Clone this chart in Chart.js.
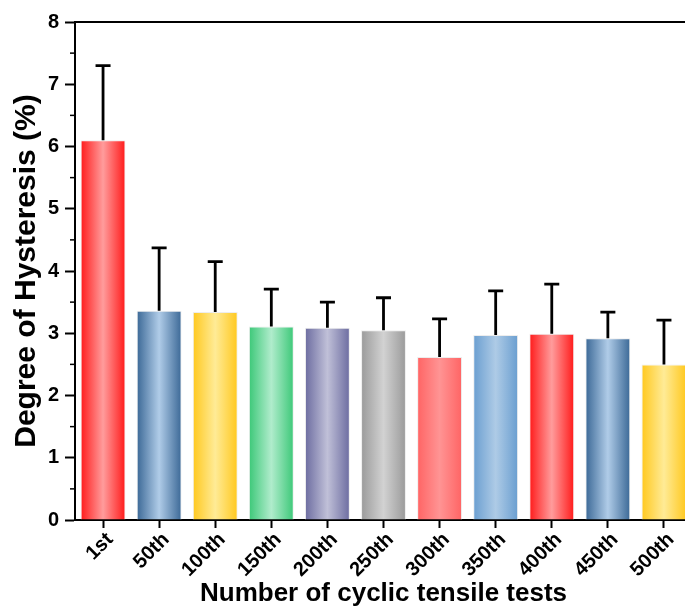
<!DOCTYPE html>
<html>
<head>
<meta charset="utf-8">
<script src="https://cdn.jsdelivr.net/npm/chart.js@4"></script>
<style>
  html, body { margin: 0; padding: 0; background: #fff; overflow: hidden; }
  canvas { display: block; }
</style>
</head>
<body>
<canvas id="chart" width="692" height="610"></canvas>
<script>
// data
let labels = ["1st", "50th", "100th", "150th", "200th", "250th", "300th", "350th", "400th", "450th", "500th"];
let values = [6.10, 3.36, 3.34, 3.11, 3.09, 3.05, 2.62, 2.97, 2.99, 2.92, 2.50];
let errTop = [7.30, 4.37, 4.15, 3.71, 3.50, 3.57, 3.23, 3.68, 3.79, 3.34, 3.21];

// [edge, middle] colour of each bar
let edgeColors = ["#ff1a1a", "#3b6896", "#ffc81e", "#3cc878", "#6c6ca0", "#9a9a9a", "#ff6464", "#6a9ed0", "#ff1a1a", "#3b6896", "#ffc81e"];
let midColors = ["#ff9c9c", "#b0cce8", "#ffeb96", "#b0eccc", "#c0c0d8", "#d2d2d2", "#ff9494", "#aecbe6", "#ff9c9c", "#b0cce8", "#ffeb96"];

let font = "'Liberation Sans', Arial, sans-serif";

function barFill(context) {
    let chart = context.chart;
    if (!chart.chartArea || !chart.scales.x) return edgeColors[context.dataIndex];
    let i = context.dataIndex;
    let xs = chart.scales.x;
    let cx = xs.getPixelForValue(i);
    let half = (xs.width / labels.length) * 0.8 / 2;
    let g = chart.ctx.createLinearGradient(cx - half, 0, cx + half, 0);
    g.addColorStop(0, edgeColors[i]);
    g.addColorStop(0.5, midColors[i]);
    g.addColorStop(1, edgeColors[i]);
    return g;
}

// upper error bars, minor y ticks and the top frame line
let extras = {
    id: "extras",
    afterDatasetsDraw(chart) {
        let ctx = chart.ctx;
        let xs = chart.scales.x;
        let ys = chart.scales.y;
        ctx.save();
        ctx.strokeStyle = "#000";
        ctx.lineWidth = 2.8;
        errTop.forEach((e, i) => {
            let x = xs.getPixelForValue(i);
            let y0 = ys.getPixelForValue(values[i]);
            let y1 = ys.getPixelForValue(e);
            ctx.beginPath();
            ctx.moveTo(x, y0);
            ctx.lineTo(x, y1);
            ctx.moveTo(x - 7.5, y1);
            ctx.lineTo(x + 7.5, y1);
            ctx.stroke();
        });
        ctx.restore();
    },
    afterDraw(chart) {
        let ctx = chart.ctx;
        let a = chart.chartArea;
        let ys = chart.scales.y;
        ctx.save();
        ctx.strokeStyle = "#000";
        ctx.lineWidth = 2;
        ctx.beginPath();
        ctx.moveTo(a.left - 1, a.top);
        ctx.lineTo(a.right, a.top);
        ctx.stroke();
        ctx.lineWidth = 1.5;
        for (let v = 0.5; v < 8; v += 1) {
            let y = ys.getPixelForValue(v);
            ctx.beginPath();
            ctx.moveTo(a.left - 5, y);
            ctx.lineTo(a.left, y);
            ctx.stroke();
        }
        ctx.restore();
    }
};

let chart = new Chart(document.getElementById("chart").getContext("2d"), {
    type: "bar",
    data: {
        labels: labels,
        datasets: [{
            data: values,
            backgroundColor: barFill,
            borderColor: "rgba(235,235,235,0.9)",
            borderWidth: 1,
            borderSkipped: "bottom",
            barPercentage: 0.8,
            categoryPercentage: 1
        }]
    },
    options: {
        responsive: false,
        animation: false,
        layout: { padding: { top: 22, right: 0, left: 0, bottom: 0 } },
        plugins: { legend: { display: false }, tooltip: { enabled: false } },
        scales: {
            x: {
                offset: true,
                grid: { offset: false, drawOnChartArea: false, tickLength: 8, tickWidth: 2, tickColor: "#000" },
                border: { color: "#000", width: 2 },
                ticks: {
                    color: "#000",
                    font: { family: font, size: 20, weight: "bold" },
                    minRotation: 45,
                    maxRotation: 45,
                    padding: 0,
                    labelOffset: 7
                },
                title: {
                    display: true,
                    text: "Number of cyclic tensile tests",
                    color: "#000",
                    font: { family: font, size: 26, weight: "bold" },
                    padding: { top: 0, bottom: 1 }
                },
                afterFit(scale) { scale.height = 90; }
            },
            y: {
                min: 0,
                max: 8,
                grid: { drawOnChartArea: false, tickLength: 10, tickWidth: 2, tickColor: "#000" },
                border: { color: "#000", width: 2 },
                ticks: {
                    stepSize: 1,
                    color: "#000",
                    font: { family: font, size: 20, weight: "bold" },
                    padding: 6
                },
                title: {
                    display: true,
                    text: "Degree of Hysteresis (%)",
                    color: "#000",
                    font: { family: font, size: 30, weight: "bold" },
                    padding: { top: 9, bottom: 0 }
                },
                afterFit(scale) { scale.width = 75; }
            }
        }
    },
    plugins: [extras]
});
</script>
</body>
</html>
